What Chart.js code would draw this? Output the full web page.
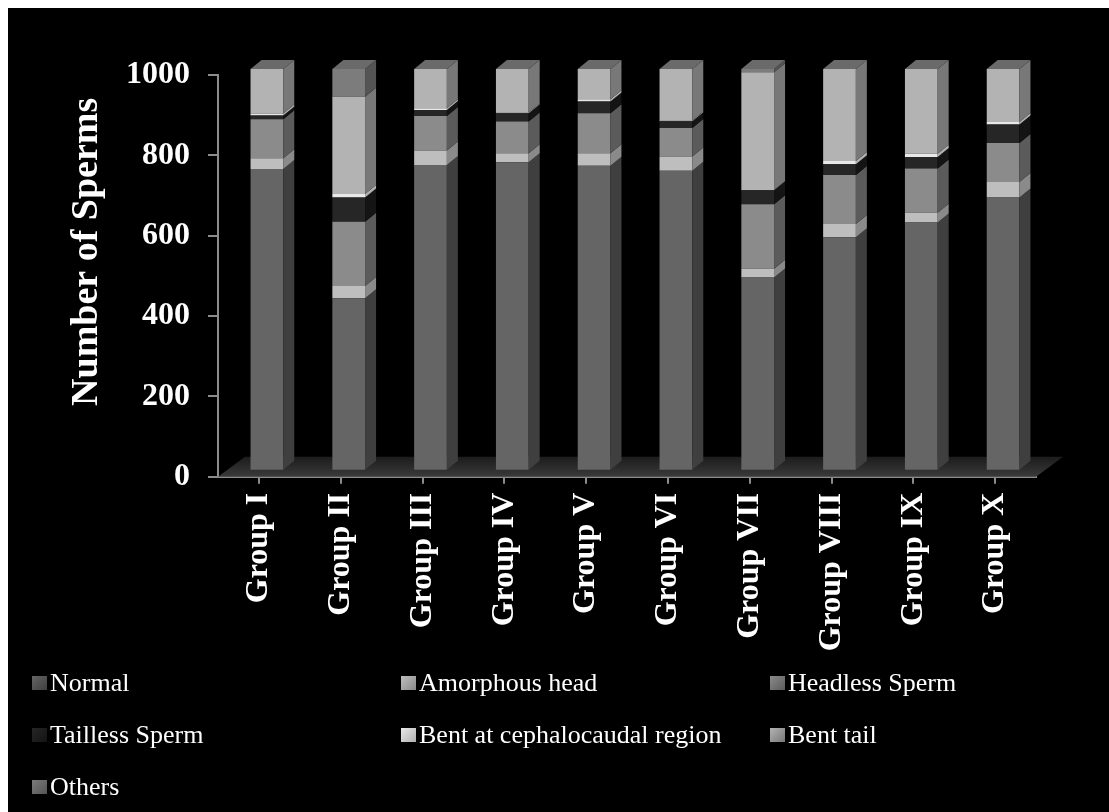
<!DOCTYPE html>
<html lang="en">
<head>
<meta charset="UTF-8">
<title>Sperm morphology by group</title>
<script src="https://cdn.jsdelivr.net/npm/chart.js"></script>
<style>
  html, body { margin: 0; padding: 0; background: #fff; }
  #frame { position: absolute; left: 8px; top: 8px; width: 1101px; height: 804px; background: #000; }
  #legend {
    position: absolute; left: 24px; top: 649px;
    display: grid; grid-template-columns: 369px 369px 369px; grid-auto-rows: 52px;
    font-family: 'Liberation Serif', 'Times New Roman', serif; font-size: 26px; color: #fff;
  }
  #legend div { display: flex; align-items: center; white-space: nowrap; }
  #legend span.box { width: 15px; height: 14px; margin-right: 3px; display: inline-block; }
</style>
</head>
<body>
<div id="frame">
  <canvas id="chart" width="1101" height="650"></canvas>
  <div id="legend"></div>
</div>
<script>
const groups = ['Group I', 'Group II', 'Group III', 'Group IV', 'Group V', 'Group VI', 'Group VII', 'Group VIII', 'Group IX', 'Group X'];
const normal    = [751, 429, 761, 768, 759, 747, 481, 581, 618, 680];
const amorphous = [27, 31, 36, 22, 31, 35, 22, 33, 24, 39];
const headless  = [97, 160, 86, 79, 100, 71, 160, 122, 110, 97];
const tailless  = [9, 60, 15, 21, 29, 17, 35, 27, 29, 46];
const bentCeph  = [5, 9, 4, 2, 6, 2, 1, 8, 8, 6];
const bentTail  = [111, 242, 98, 108, 75, 128, 293, 229, 211, 132];
const others    = [0, 69, 0, 0, 0, 0, 8, 0, 0, 0];
const yTicks    = [0, 200, 400, 600, 800, 1000];

const serif = "'Liberation Serif', 'Times New Roman', serif";
// front colour, side colour
const series = [
  ['Normal', normal, '#656565', '#3f3f3f'],
  ['Amorphous head', amorphous, '#bebebe', '#8a8a8a'],
  ['Headless Sperm', headless, '#8b8b8b', '#5b5b5b'],
  ['Tailless Sperm', tailless, '#262626', '#141414'],
  ['Bent at cephalocaudal region', bentCeph, '#e8e8e8', '#b0b0b0'],
  ['Bent tail', bentTail, '#b3b3b3', '#787878'],
  ['Others', others, '#7c7c7c', '#545454']
];

const DX = 8, DY = -6;       // shift of the bar fronts off the floor edge
const SX = 11, SY = -9;      // bar depth
const FX = 27, FY = -20;     // floor depth

const threeD = {
  id: 'threeD',
  beforeDatasetsDraw(chart) {
    const {ctx, chartArea: a} = chart;
    ctx.save();
    const g = ctx.createLinearGradient(0, a.bottom + FY, 0, a.bottom);
    g.addColorStop(0, '#1c1c1c');
    g.addColorStop(1, '#3a3a3a');
    ctx.fillStyle = g;
    ctx.beginPath();
    ctx.moveTo(a.left, a.bottom);
    ctx.lineTo(a.left + FX, a.bottom + FY);
    ctx.lineTo(a.right + FX, a.bottom + FY);
    ctx.lineTo(a.right, a.bottom);
    ctx.closePath();
    ctx.fill();
    ctx.restore();
    ctx.save();
    ctx.translate(DX, DY);
  },
  afterDatasetsDraw(chart) {
    const {ctx} = chart;
    const tops = {};
    chart.data.datasets.forEach((ds, di) => {
      const meta = chart.getDatasetMeta(di);
      meta.data.forEach((el, i) => {
        const p = el.getProps(['x', 'y', 'base', 'width'], true);
        const r = p.x + p.width / 2;
        const h = Math.abs(p.base - p.y);
        if (h > 0) {
          ctx.fillStyle = ds.sideColor;
          ctx.beginPath();
          ctx.moveTo(r, p.y);
          ctx.lineTo(r + SX, p.y + SY);
          ctx.lineTo(r + SX, p.base + SY);
          ctx.lineTo(r, p.base);
          ctx.closePath();
          ctx.fill();
          tops[i] = p;
        }
      });
    });
    Object.values(tops).forEach(p => {
      const l = p.x - p.width / 2, r = p.x + p.width / 2;
      ctx.fillStyle = '#6a6a6a';
      ctx.beginPath();
      ctx.moveTo(l, p.y);
      ctx.lineTo(l + SX, p.y + SY);
      ctx.lineTo(r + SX, p.y + SY);
      ctx.lineTo(r, p.y);
      ctx.closePath();
      ctx.fill();
    });
    ctx.restore();
  },
  afterDraw(chart) {
    const {ctx, chartArea: a} = chart;
    ctx.save();
    ctx.translate(a.left - 131, (a.top + a.bottom) / 2 - 24);
    ctx.rotate(-Math.PI / 2);
    ctx.fillStyle = '#fff';
    ctx.font = 'bold 38px ' + serif;
    ctx.textAlign = 'center';
    ctx.textBaseline = 'middle';
    ctx.fillText('Number of Sperms', 0, 0);
    ctx.restore();
  }
};

const chart = new Chart(document.getElementById('chart'), {
  type: 'bar',
  data: {
    labels: groups,
    datasets: series.map(([label, data, color, side]) => ({
      label, data,
      backgroundColor: color,
      sideColor: side,
      borderWidth: 0,
      barPercentage: 0.4,
      categoryPercentage: 1
    }))
  },
  plugins: [threeD],
  options: {
    responsive: false,
    devicePixelRatio: 1,
    animation: false,
    layout: { padding: { top: 67, right: 73, left: 0, bottom: 0 } },
    plugins: { legend: { display: false }, tooltip: { enabled: false } },
    scales: {
      x: {
        stacked: true,
        afterFit(s) { s.height = 181.3; },
        grid: { offset: false, drawOnChartArea: false, tickLength: 7, color: '#8c8c8c', lineWidth: 2 },
        border: { color: '#8c8c8c', width: 2 },
        ticks: {
          color: '#fff', autoSkip: false, minRotation: 90, maxRotation: 90, padding: 9,
          font: { family: serif, size: 32, weight: 'bold' }
        }
      },
      y: {
        stacked: true,
        min: 0, max: 1000,
        afterFit(s) { s.width = 210; },
        afterBuildTicks(s) { s.ticks = yTicks.map(v => ({ value: v })); },
        grid: { drawOnChartArea: false, tickLength: 10, color: '#8c8c8c', lineWidth: 2 },
        border: { color: '#8c8c8c', width: 2 },
        ticks: {
          color: '#fff', padding: 18,
          callback: v => String(v),
          font: { family: serif, size: 32, weight: 'bold' }
        }
      }
    }
  }
});

// legend in three fixed columns, like the original
const legend = document.getElementById('legend');
chart.data.datasets.forEach(ds => {
  const item = document.createElement('div');
  const box = document.createElement('span');
  box.className = 'box';
  box.style.background = `linear-gradient(135deg, ${ds.backgroundColor}, ${ds.sideColor})`;
  item.appendChild(box);
  item.appendChild(document.createTextNode(ds.label));
  legend.appendChild(item);
});
</script>
</body>
</html>
